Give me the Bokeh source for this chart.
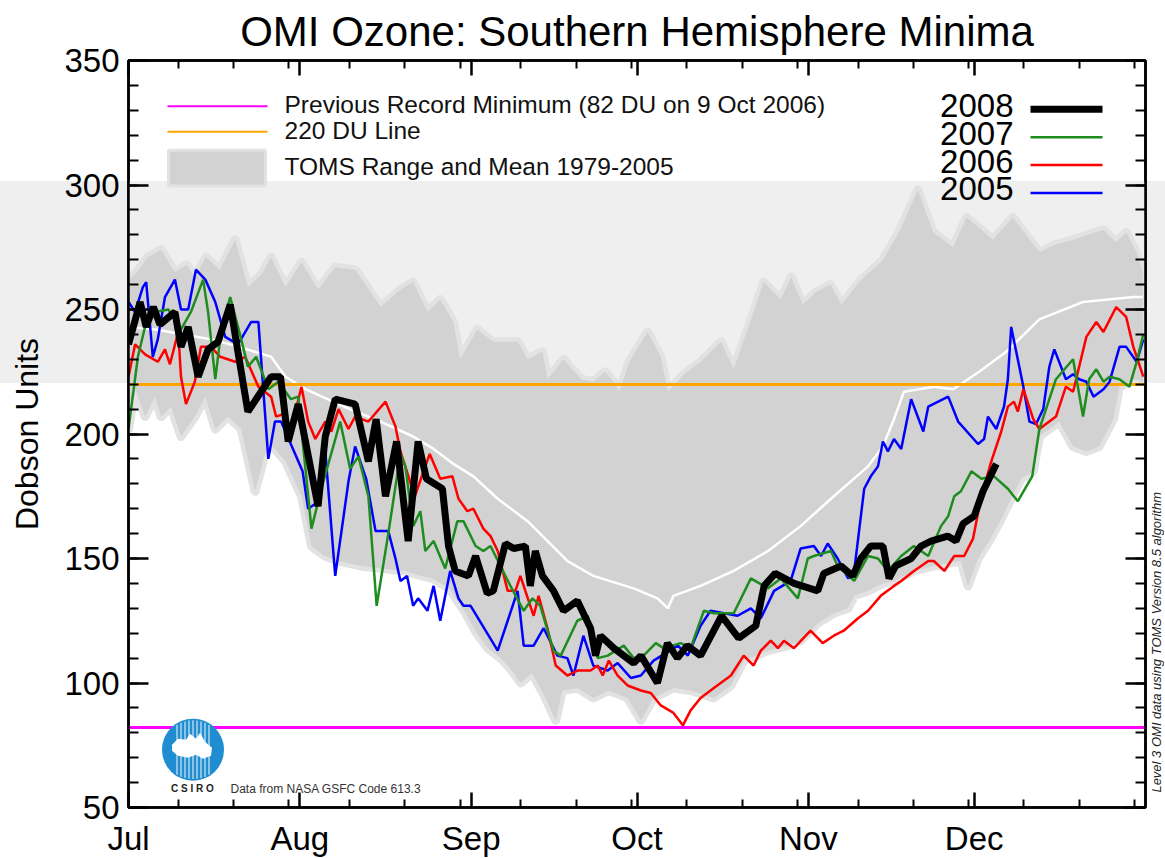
import numpy as np
from bokeh.plotting import figure
from bokeh.layouts import row
from bokeh.models import (Range1d, LinearAxis, FixedTicker, Label, Title, BoxAnnotation, Div)
from bokeh.embed import file_html
from bokeh.resources import INLINE

# ---------------- data ----------------
month_ticks = [0, 31, 62, 92, 123, 153]
month_labels = ["Jul", "Aug", "Sep", "Oct", "Nov", "Dec"]
day_minor_ticks = [9, 19, 29, 40, 50, 60, 71, 81, 91, 101, 111, 121, 132, 142, 152, 162, 172, 182]
du_major_ticks = [50, 100, 150, 200, 250, 300, 350]
du_minor_ticks = list(range(50, 351, 10))

record_min_du = 82
reference_du = 220

toms_max_day = [0, 1.5, 3.5, 5.9, 8.4, 10.5, 12.0, 14.0, 16.5, 19.3, 21.6, 24.0, 25.8, 28.4, 31.3,
                34.3, 37.4, 41.0, 43.5, 45.6, 49.2, 51.5, 54.1, 56.4, 58.8, 60.0, 63.1, 66.0, 70.4,
                72.2, 74.9, 75.8, 78.7, 81.9, 84.1, 86.2, 87.8, 88.8, 90.6, 93.9, 96.3, 97.6, 100.5,
                103.5, 107.2, 109.5, 113.1, 114.9, 118.0, 119.9, 122.0, 124.4, 127.0, 129.0, 132.2,
                136.5, 139.4, 142.8, 145.6, 149.2, 151.6, 156.4, 160.0, 164.8, 167.5, 170.9, 176.4,
                178.7, 180.5, 182.4, 183.5]
toms_max = [262, 265, 271, 274, 265, 268, 263, 271, 266, 278, 259, 264, 271, 259, 269,
            258, 267, 266, 258, 251, 258, 261, 249, 254, 245, 230, 242, 237, 237,
            230, 233, 222, 230, 222, 221, 225, 221, 217, 229, 241, 231, 217, 224,
            229, 237, 226, 249, 261, 254, 263, 252, 257, 260, 252, 261,
            270, 281, 298, 281, 275, 287, 278, 287, 273, 276, 278, 282,
            277, 281, 273, 265]

toms_min_day = [0, 1.2, 3.0, 4.8, 5.9, 7.7, 9.5, 12.0, 13.9, 15.7, 18.0, 20.4, 22.9, 25.3, 28.4,
                31.3, 33.1, 35.5, 38.0, 42.0, 46.0, 50.0, 53.0, 55.0, 58.0, 61.0, 63.0, 65.0, 67.3,
                69.0, 71.0, 73.0, 75.0, 77.3, 78.5, 81.2, 84.1, 86.9, 90.3, 92.7, 95.0, 98.6, 101.7,
                105.9, 109.0, 111.3, 115.7, 119.3, 121.6, 124.7, 127.6, 130.2, 131.3, 133.8, 136.5,
                138.5, 142.1, 145.7, 150.6, 151.9, 153.7, 156.0, 157.9, 159.7, 161.5, 163.7, 164.8,
                168.4, 170.9, 173.3, 175.6, 178.2, 179.3, 181.8, 183.5]
toms_min = [202, 218, 207, 215, 207, 211, 199, 207, 215, 202, 207, 202, 177, 197, 189,
            175, 155, 151, 149, 147, 146, 145, 143, 142, 138, 128, 120, 114, 110,
            106, 100, 104, 96, 85, 97, 98, 94, 97, 94, 85, 94, 98, 97,
            94, 99, 109, 113, 115, 117, 124, 128, 130, 135, 137, 140,
            141, 145, 147, 149, 139, 150, 158, 166, 174, 182, 185, 199,
            205, 195, 193, 195, 206, 219, 222, 221]

toms_mean_day = [0, 5, 10, 15, 20, 25.8, 28.4, 32.0, 36.0, 40.0, 45.6, 51.5, 55.2, 58.8, 62.4,
                 66.8, 72.2, 75.8, 79.4, 84.1, 87.0, 91.4, 95.7, 97.6, 98.6, 103.5, 109.5, 115.7,
                 121.6, 127.6, 133.8, 136.5, 138.5, 140.3, 145.7, 149.2, 153.9, 158.8, 164.8,
                 172.7, 181.8, 183.5]
toms_mean = [243, 242, 240, 238, 235, 231, 223, 218, 214, 210, 205, 199, 194, 188, 183,
             174, 165, 157, 149, 143, 141, 138, 134, 130, 135, 139, 145, 153,
             163, 175, 187, 195, 206, 217, 219, 218, 225, 233, 246,
             253, 255, 255]

day_2005 = [0, 1.2, 2.6, 3.2, 4.4, 5.3, 6.6, 8.4, 9.5, 10.8, 12.2, 13.9, 15.7, 17.5, 19.8,
            22.2, 23.5, 25.3, 26.5, 27.6, 31.5, 32.5, 33.8, 35.5, 37.4, 39.8, 41.0, 43.0, 44.7,
            45.7, 47.0, 48.3, 49.2, 50.4, 51.5, 52.4, 54.1, 55.2, 56.4, 58.2, 59.7, 60.6, 61.9,
            66.8, 70.4, 71.5, 73.3, 75.1, 77.6, 79.4, 80.5, 82.3, 84.1, 86.7, 88.5, 90.9, 92.7,
            95.0, 99.4, 101.2, 103.5, 105.3, 110.2, 112.6, 114.4, 116.8, 119.8, 121.6, 124.0,
            125.3, 126.5, 128.3, 130.2, 131.3, 133.1, 134.3, 135.6, 136.5, 137.4, 138.5, 139.8,
            141.6, 143.8, 144.7, 148.3, 150.1, 153.7, 154.8, 155.5, 157.0, 158.4, 159.1, 159.7,
            161.9, 163.0, 164.2, 165.5, 166.6, 167.5, 169.6, 170.9, 172.0, 173.3, 174.6, 176.4,
            177.5, 179.3, 180.5, 182.4, 183.6]
du_2005 = [253, 249, 259, 261, 231, 238, 255, 262, 250, 250, 266, 262, 253, 239, 236,
           245, 245, 190, 205, 205, 185, 170, 172, 196, 143, 181, 195, 182, 161,
           161, 161, 150, 141, 143, 131, 134, 129, 139, 125, 145, 134, 131, 131,
           113, 137, 115, 115, 122, 111, 110, 103, 119, 107, 105, 108, 102, 103,
           109, 115, 111, 123, 129, 127, 130, 126, 137, 141, 154, 155,
           151, 156, 150, 142, 145, 178, 183, 187, 197, 193, 198, 194,
           214, 201, 211, 215, 205, 196, 198, 207, 202, 211, 222, 243,
           219, 205, 204, 210, 227, 234, 222, 224, 222, 221, 215, 218,
           221, 235, 235, 229, 238]

day_2006 = [0, 1.2, 3.0, 5.3, 6.6, 7.5, 9.0, 9.5, 10.4, 12.0, 13.1, 14.9, 16.6, 19.3, 21.1,
            23.5, 25.8, 26.7, 28.0, 29.4, 31.3, 32.5, 33.8, 35.6, 36.7, 38.0, 39.8, 41.0, 43.4,
            46.5, 48.3, 49.2, 51.8, 54.5, 56.4, 58.6, 59.7, 61.3, 62.4, 64.2, 65.5, 66.8, 68.6,
            70.0, 70.9, 73.3, 74.2, 75.8, 77.3, 79.4, 81.2, 83.6, 84.9, 85.8, 86.9, 88.5, 90.3,
            92.7, 94.5, 96.3, 98.6, 100.3, 101.7, 103.5, 105.9, 109.0, 111.3, 113.1, 114.4,
            116.2, 117.5, 118.6, 120.4, 123.4, 125.6, 127.6, 129.4, 132.0, 133.8, 136.1, 138.5,
            139.8, 142.1, 144.7, 145.7, 147.6, 149.4, 151.2, 152.8, 154.3, 156.1, 157.9, 159.1,
            160.2, 160.9, 161.9, 163.7, 164.8, 167.8, 169.6, 170.9, 173.3, 175.1, 176.4, 178.7,
            180.5, 181.8, 183.6]
du_2006 = [223, 236, 232, 229, 234, 228, 241, 223, 212, 221, 235, 235, 231, 229, 231,
           219, 215, 207, 208, 202, 219, 205, 198, 205, 201, 210, 202, 207, 205,
           213, 203, 193, 175, 192, 182, 183, 174, 169, 170, 162, 159, 153, 137,
           137, 143, 127, 135, 122, 107, 103, 105, 105, 107, 103, 109, 103, 99,
           97, 96, 91, 88, 83, 89, 94, 98, 103, 111, 107, 113,
           117, 114, 117, 114, 121, 116, 119, 121, 126, 129, 135, 139,
           141, 145, 149, 149, 145, 151, 151, 158, 175, 189, 201, 211,
           213, 209, 218, 206, 202, 207, 219, 217, 239, 245, 241, 251,
           247, 235, 223]

day_2007 = [0, 1.7, 3.2, 4.8, 7.2, 9.5, 11.3, 13.5, 14.4, 15.7, 16.8, 18.4, 20.4, 21.6, 23.1,
            25.3, 27.1, 29.4, 30.7, 33.1, 34.9, 38.3, 40.1, 41.6, 43.4, 44.9, 47.0, 49.2, 50.1,
            51.5, 52.8, 53.7, 55.2, 57.3, 59.5, 60.6, 62.8, 64.2, 65.5, 67.3, 69.1, 71.5, 73.1,
            74.5, 76.9, 78.2, 81.2, 83.1, 84.9, 86.7, 89.6, 91.4, 93.2, 95.4, 96.8, 99.9, 101.7,
            104.1, 105.9, 109.5, 112.6, 115.7, 118.0, 121.1, 122.9, 124.0, 127.1, 128.3, 131.3,
            133.8, 135.6, 137.4, 139.8, 142.1, 144.7, 147.0, 148.3, 149.4, 150.6, 152.5, 154.3,
            156.6, 159.1, 160.9, 163.5, 164.8, 167.8, 170.9, 172.7, 173.8, 175.1, 176.4, 177.5,
            179.3, 181.1, 182.4, 183.6]
du_2007 = [202, 231, 245, 249, 250, 242, 249, 262, 249, 222, 242, 255, 238, 227, 231,
           218, 221, 214, 215, 162, 178, 205, 186, 191, 175, 131, 160, 192, 187,
           163, 169, 153, 157, 146, 165, 165, 155, 153, 155, 147, 139, 129, 134,
           131, 113, 111, 125, 127, 110, 111, 115, 110, 111, 116, 114, 116, 114,
           129, 128, 128, 142, 138, 142, 134, 150, 151, 153, 147, 141,
           151, 150, 145, 151, 155, 151, 163, 167, 175, 177, 185, 182,
           183, 178, 173, 183, 202, 222, 230, 207, 222, 226, 221, 223,
           222, 219, 229, 240]

day_2008 = [0, 2.1, 3.2, 4.5, 5.7, 8.4, 9.5, 10.8, 12.6, 14.4, 16.2, 18.4, 19.8, 21.6, 25.8,
            27.5, 28.9, 30.7, 34.3, 35.6, 37.4, 41.0, 43.4, 44.8, 46.5, 48.5, 50.6, 52.4, 53.9,
            56.8, 57.9, 59.1, 61.5, 62.8, 64.9, 66.0, 68.2, 69.7, 71.8, 72.7, 73.6, 74.9, 76.9,
            78.7, 81.2, 83.6, 84.5, 85.4, 87.8, 91.4, 92.7, 95.7, 97.5, 99.3, 101.1, 103.5, 107.3,
            110.4, 113.5, 115.0, 117.0, 120.4, 124.7, 125.8, 128.9, 131.0, 132.5, 134.3, 136.5,
            137.6, 138.8, 141.6, 143.4, 145.2, 148.2, 149.7, 151.0, 153.0, 154.6, 157.0]
du_2008 = [236, 253, 243, 251, 244, 249, 235, 243, 223, 234, 237, 252, 233, 209, 223,
           223, 197, 212, 171, 199, 214, 212, 189, 206, 175, 197, 157, 197, 182,
           178, 155, 145, 143, 151, 136, 137, 156, 154, 155, 139, 153, 143, 137,
           129, 133, 122, 111, 119, 114, 108, 111, 100, 116, 110, 115, 111, 127,
           118, 123, 139, 144, 140, 137, 144, 147, 143, 150, 155, 155,
           142, 147, 150, 155, 157, 159, 157, 164, 167, 177, 188]

legend_years = ["2008", "2007", "2006", "2005"]
year_colors = ["black", "#1e8c1e", "#ff0000", "#0000ff"]
year_widths = [7, 2.5, 2.5, 2.5]

title_text = "OMI Ozone: Southern Hemisphere Minima"
side_note = "Level 3 OMI data using TOMS Version 8.5 algorithm"

# ---------------- layout helpers ----------------
FONT = "Liberation Sans"
W_TOTAL, H = 1165, 859
NOTE_W = 18
W = W_TOTAL - NOTE_W
X0, X1, Y0, Y1 = 0, 184, 50, 350
PX_L, PX_R, PX_T, PX_B = 128.0, 1145.0, 60.0, 810.0   # frame in canvas pixels
BAND_TOP, BAND_BOTTOM = 181, 383
band_css = ("linear-gradient(to bottom, #ffffff 0px, #ffffff %dpx, #efefef %dpx, "
            "#efefef %dpx, #ffffff %dpx)" % (BAND_TOP, BAND_TOP, BAND_BOTTOM, BAND_BOTTOM))


def dx(px):
    return X0 + (px - PX_L) * (X1 - X0) / (PX_R - PX_L)


def dy(py):
    return Y1 - (py - PX_T) * (Y1 - Y0) / (PX_B - PX_T)


p = figure(width=W, height=H, x_range=Range1d(X0, X1), y_range=Range1d(Y0, Y1),
           output_backend="svg", toolbar_location=None, title=None,
           x_axis_location=None, y_axis_location=None,
           min_border_left=int(PX_L), min_border_right=int(W - PX_R),
           min_border_top=int(PX_T), min_border_bottom=int(H - PX_B))
p.grid.visible = False
p.outline_line_color = "black"
p.outline_line_width = 2.5
p.background_fill_color = "white"
p.background_fill_alpha = 0.0
p.border_fill_color = "white"
p.border_fill_alpha = 0.0
p.styles = {"background": band_css}


def make_axis(ticker, show_labels, major_in, minor_in, size="33px", standoff=9):
    ax = LinearAxis(ticker=ticker)
    ax.axis_line_width = 2.5
    ax.axis_line_color = "black"
    ax.major_tick_in = major_in
    ax.major_tick_out = 0
    ax.minor_tick_in = minor_in
    ax.minor_tick_out = 0
    ax.major_tick_line_width = 2.5
    ax.minor_tick_line_width = 2
    if show_labels:
        ax.major_label_text_font = FONT
        ax.major_label_text_font_size = size
        ax.major_label_text_color = "black"
        ax.major_label_standoff = standoff
    else:
        ax.major_label_text_font_size = "0px"
        ax.major_label_text_alpha = 0
        ax.major_label_standoff = 0
    return ax


yt = FixedTicker(ticks=du_major_ticks, minor_ticks=du_minor_ticks)
xt = FixedTicker(ticks=month_ticks, minor_ticks=day_minor_ticks)

left_ax = make_axis(yt, True, 20, 10)
left_ax.axis_label = "Dobson Units"
left_ax.axis_label_text_font = FONT
left_ax.axis_label_text_font_size = "32px"
left_ax.axis_label_text_font_style = "normal"
left_ax.axis_label_text_color = "black"
left_ax.axis_label_standoff = 16
p.add_layout(left_ax, "left")
p.add_layout(make_axis(yt, False, 20, 10), "right")

bottom_ax = make_axis(xt, True, 15, 8, size="33px", standoff=12)
bottom_ax.major_label_overrides = {t: lab for t, lab in zip(month_ticks, month_labels)}
p.add_layout(bottom_ax, "below")
p.add_layout(make_axis(xt, False, 15, 8), "above")

# title
p.add_layout(Title(text=title_text, align="center", text_font=FONT, text_font_size="42px",
                   text_font_style="normal", text_color="black", standoff=11), "above")

# light band inside the frame
band = BoxAnnotation(left=0, right=W, top=BAND_TOP, bottom=BAND_BOTTOM,
                     left_units="canvas", right_units="canvas",
                     top_units="canvas", bottom_units="canvas",
                     fill_color="#efefef", fill_alpha=1.0, line_alpha=0, level="underlay")
p.add_layout(band)

# TOMS range + mean
poly_x = list(toms_max_day) + list(toms_min_day[::-1])
poly_y = list(toms_max) + list(toms_min[::-1])
p.patch(poly_x, poly_y, fill_alpha=0, line_color="#e2e2e2", line_width=9, line_join="round")
p.patch(poly_x, poly_y, fill_color="#d2d2d2", line_color=None)
p.line(toms_mean_day, toms_mean, line_color="white", line_width=2.5)

p.hspan(y=[reference_du], line_color="#ffa500", line_width=3)
p.hspan(y=[record_min_du], line_color="#ff00ff", line_width=3)

p.line(day_2005, du_2005, line_color=year_colors[3], line_width=year_widths[3])
p.line(day_2006, du_2006, line_color=year_colors[2], line_width=year_widths[2])
p.line(day_2007, du_2007, line_color=year_colors[1], line_width=year_widths[1])
p.line(day_2008, du_2008, line_color=year_colors[0], line_width=year_widths[0])

# ---------------- legends ----------------
lx0, lx1 = dx(167), dx(267)
p.segment(x0=[lx0], y0=[dy(106)], x1=[lx1], y1=[dy(106)], line_color="#ff00ff", line_width=2)
p.segment(x0=[lx0], y0=[dy(131.5)], x1=[lx1], y1=[dy(131.5)], line_color="#ffa500", line_width=2)
p.quad(left=[dx(168)], right=[dx(265)], top=[dy(150)], bottom=[dy(186)],
       fill_color="#d2d2d2", line_color="#e2e2e2", line_width=3)
left_texts = ["Previous Record Minimum (82 DU on 9 Oct 2006)", "220 DU Line",
              "TOMS Range and Mean 1979-2005"]
for t, py in zip(left_texts, [104, 130, 166]):
    p.add_layout(Label(x=dx(284), y=dy(py), text=t, text_font=FONT, text_font_size="24.5px",
                       text_align="left", text_baseline="middle", text_color="#111111"))

for i, yr in enumerate(legend_years):
    ty = 105 + 28 * i
    p.add_layout(Label(x=dx(1013), y=dy(ty), text=yr, text_font=FONT, text_font_size="33px",
                       text_align="right", text_baseline="middle", text_color="black"))
    p.segment(x0=[dx(1030)], y0=[dy(ty + 4)], x1=[dx(1102)], y1=[dy(ty + 4)],
              line_color=year_colors[i], line_width=year_widths[i])

# CSIRO logo
ccx, ccy, rad = 192.5, 752.0, 31.0
p.scatter([dx(ccx)], [dy(ccy)], size=2 * rad, marker="circle", fill_color="#1f8dd0", line_color=None)
aus_off = [(-21, -3), (-15, -9), (-7, -8), (-3, -14), (3, -9), (7, -15), (12, -6), (19, 0),
           (18, 8), (10, 11), (3, 7), (-5, 10), (-15, 8), (-21, 3)]
p.patch([dx(ccx + ox) for ox, oy in aus_off], [dy(ccy - 2 + oy) for ox, oy in aus_off],
        fill_color="white", line_color=None)
sx = np.arange(-16, 18, 4.0)
half = np.sqrt(rad ** 2 - sx ** 2) - 1.5
p.segment(x0=[dx(ccx + s) for s in sx], y0=[dy(ccy - h) for h in half],
          x1=[dx(ccx + s) for s in sx], y1=[dy(ccy + h) for h in half],
          line_color="white", line_width=1.3, line_alpha=0.75)
p.add_layout(Label(x=dx(192), y=dy(791), text="C S I R O", text_font=FONT, text_font_size="10px",
                   text_font_style="bold", text_align="center", text_baseline="middle",
                   text_color="#222222"))
p.add_layout(Label(x=dx(230), y=dy(791), text="Data from NASA GSFC Code 613.3", text_font=FONT,
                   text_font_size="12px", text_align="left", text_baseline="middle",
                   text_color="#333333"))

# side note (reads bottom-to-top, right of the frame)
note_html = ('<div style="writing-mode: vertical-rl; transform: rotate(180deg); white-space: nowrap; '
             'font-family: \'Liberation Sans\', Arial, sans-serif; font-style: italic; font-size: 13px; '
             'line-height: 14px; color: #222222; margin: 492px 0 0 3px; padding: 0;">%s</div>' % side_note)
note = Div(text=note_html, width=NOTE_W, height=H, margin=0,
           styles={"background": band_css, "margin": "0", "padding": "0", "overflow": "hidden"})

layout = row(p, note)
open("out.html", "w").write(file_html(layout, INLINE))
